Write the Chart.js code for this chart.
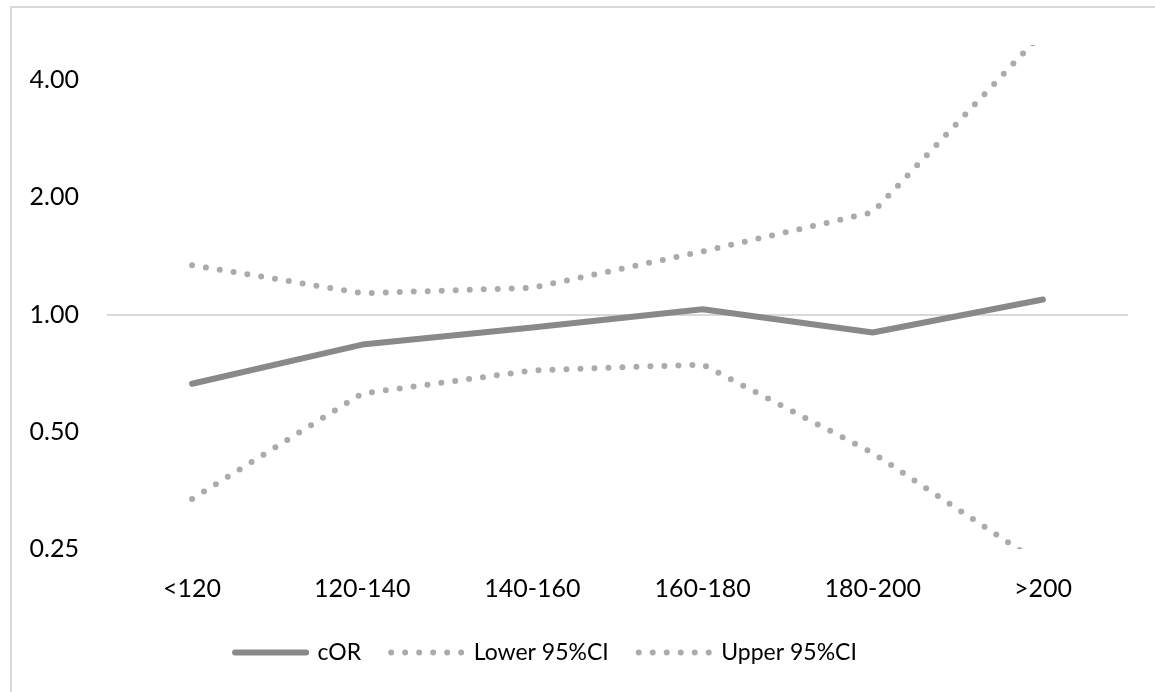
<!DOCTYPE html>
<html>
<head>
<meta charset="utf-8">
<script src="https://cdn.jsdelivr.net/npm/chart.js@4/dist/chart.umd.min.js"></script>
<style>
  html, body { margin: 0; padding: 0; background: #fff; overflow: hidden; }
  #frame { position: absolute; left: 10px; top: 6px; width: 1300px; height: 800px;
           border-top: 2px solid #d9d9d9; border-left: 2px solid #d9d9d9; }
  #wrap { position: absolute; left: 0; top: 0; width: 1155px; height: 692px; }
</style>
</head>
<body>
<div id="frame"></div>
<div id="wrap"><canvas id="chart"></canvas></div>
<script>
const categories = ['<120', '120-140', '140-160', '160-180', '180-200', '>200'];
const corValues = [0.664, 0.837, 0.926, 1.032, 0.899, 1.093];
const lowerValues = [0.336, 0.627, 0.718, 0.744, 0.441, 0.227];
const upperValues = [1.339, 1.134, 1.171, 1.452, 1.83, 5.3];
const yTicks = [0.25, 0.5, 1, 2, 4];

const FONT = 'Lato';
const dotGray = '#aeaaaa';
const solidGray = '#898989';

// nudge the legend to where it sits in the original
const legendShift = {
  id: 'legendShift',
  afterLayout(chart) {
    const lg = chart.legend;
    lg.left -= 18;
    lg.right -= 18;
    lg.top -= 18;
    lg.bottom -= 18;
  }
};

const ctx = document.getElementById('chart').getContext('2d');
new Chart(ctx, {
  type: 'line',
  data: {
    labels: categories,
    datasets: [
      { label: 'cOR', data: corValues, borderColor: solidGray, backgroundColor: solidGray,
        borderWidth: 6, borderCapStyle: 'round', borderJoinStyle: 'round', pointRadius: 0, clip: 0 },
      { label: 'Lower 95%CI', data: lowerValues, borderColor: dotGray, backgroundColor: dotGray,
        borderWidth: 6, borderDash: [0, 14], borderCapStyle: 'round', pointRadius: 0, clip: 0 },
      { label: 'Upper 95%CI', data: upperValues, borderColor: dotGray, backgroundColor: dotGray,
        borderWidth: 6, borderDash: [0, 14], borderCapStyle: 'round', pointRadius: 0, clip: 0 }
    ]
  },
  options: {
    responsive: true,
    maintainAspectRatio: false,
    animation: false,
    layout: { padding: { top: 45, right: 27, bottom: 0, left: 0 } },
    scales: {
      x: {
        offset: true,
        grid: { display: false, drawTicks: false },
        border: { display: false },
        ticks: { padding: 25, color: '#000', font: { family: FONT, size: 25 }, maxRotation: 0 }
      },
      y: {
        type: 'logarithmic',
        min: 0.25,
        max: 4.92,
        afterBuildTicks: scale => { scale.ticks = yTicks.map(v => ({ value: v })); },
        afterFit: scale => { scale.width = 107; },
        border: { display: false },
        grid: {
          drawTicks: false,
          lineWidth: 2,
          color: c => (c.tick && c.tick.value === 1 ? '#d9d9d9' : 'rgba(0,0,0,0)')
        },
        ticks: {
          padding: 28, color: '#000', font: { family: FONT, size: 25 },
          callback: v => Number(v).toFixed(2)
        }
      }
    },
    plugins: {
      legend: {
        position: 'bottom',
        labels: {
          usePointStyle: true,
          pointStyle: 'line',
          pointStyleWidth: 71,
          padding: 30,
          color: '#000',
          font: { family: FONT, size: 23 },
          generateLabels: chart => {
            const items = Chart.defaults.plugins.legend.labels.generateLabels(chart);
            items.forEach(it => {
              const ds = chart.data.datasets[it.datasetIndex];
              it.lineDash = ds.borderDash || [];
              it.lineCap = 'round';
              it.lineWidth = ds.borderWidth;
            });
            return items;
          }
        }
      },
      tooltip: { enabled: false }
    }
  },
  plugins: [legendShift]
});
</script>
</body>
</html>
